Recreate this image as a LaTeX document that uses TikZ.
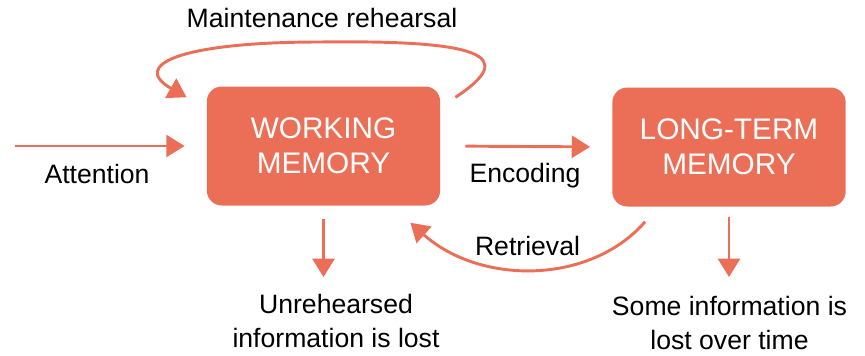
\documentclass[tikz,border=0pt]{standalone}
\usepackage{fontspec}
\setmainfont{Liberation Sans}
\usetikzlibrary{arrows.meta}
\definecolor{memcoral}{RGB}{235,111,87}

\begin{document}
\begin{tikzpicture}[x=0.03cm, y=-0.03cm,
        membox/.style={rectangle, rounded corners=0.45cm, fill=memcoral, text=white, align=center,
            minimum width=7cm, minimum height=3.57cm, font=\fontsize{25.4}{30}\selectfont},
        lbl/.style={align=center, font=\fontsize{22.7}{28.2}\selectfont},
        flow/.style={memcoral, line width=2.5pt, -{Triangle[length=0.55cm, width=0.66cm]}}]
        \useasboundingbox (0,0) rectangle (865,355);

        % Memory stores
        \node[membox] (wm) at (323.5,146) {WORKING\\MEMORY};
        \node[membox] (ltm) at (729,147) {LONG-TERM\\MEMORY};

        % Labels
        \node[lbl, anchor=base] (rehearse) at (322,27) {Maintenance rehearsal};
        \node[lbl, anchor=base] (att) at (97,183) {Attention};
        \node[lbl, anchor=base] (enc) at (525,182) {Encoding};
        \node[lbl, anchor=base] (ret) at (527.5,255) {Retrieval};
        \node[lbl] (lostwm) at (336,321) {Unrehearsed\\information is lost};
        \node[lbl] (lostltm) at (729.5,323) {Some information is\\lost over time};

        % Free ends
        \coordinate (attIn) at (15,146);
        \coordinate (wmDrop) at (323.5,277);
        \coordinate (ltmDrop) at (729,277);

        % Arrows
        \draw[flow, shorten >=0.66cm] (attIn) -- (wm.west);
        \draw[flow, shorten <=0.75cm, shorten >=0.66cm] (wm.east) -- (ltm.west);
        \draw[flow] ([shift={(15,11)}]wm.north east) .. controls (520,55) and (480,40) .. (320,42)
            .. controls (180,42) and (130,65) .. ([shift={(-20,11)}]wm.north west);
        \draw[flow] ([shift={(33,15)}]ltm.south west) .. controls (590,285) and (480,285) .. ([shift={(-30,17)}]wm.south east);
        \draw[flow, shorten <=0.39cm] (wm.south) -- (wmDrop);
        \draw[flow, shorten <=0.3cm] (ltm.south) -- (ltmDrop);
    \end{tikzpicture}
\end{document}
